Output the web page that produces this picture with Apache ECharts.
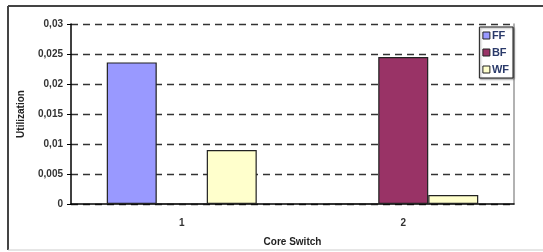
<!DOCTYPE html>
<html>
<head>
<meta charset="utf-8">
<script src="https://cdn.jsdelivr.net/npm/echarts@6/dist/echarts.min.js"></script>
<style>
  html, body { margin: 0; padding: 0; background: #fff; }
  #chart { width: 543px; height: 252px; }
</style>
</head>
<body>
<div id="chart"></div>
<script>
// values
const categories = ["1", "2"];
const ffData = [0.0236, 0];
const bfData = [0, 0.0245];
const wfData = [0.009, 0.0015];

const font = "Liberation Sans";
const chart = echarts.init(document.getElementById("chart"));

function fmt(v) {
  if (v === 0) return "0";
  return String(+v.toFixed(3)).replace(".", ",");
}

const option = {
  animation: false,
  textStyle: { fontFamily: font },
  graphic: [
    // outer frame
    { type: "line", shape: { x1: 8, y1: 6, x2: 543, y2: 6 }, style: { stroke: "#444", lineWidth: 2 } },
    { type: "line", shape: { x1: 8, y1: 6, x2: 8, y2: 250 }, style: { stroke: "#444", lineWidth: 2 } },
    { type: "line", shape: { x1: 8, y1: 250, x2: 543, y2: 250 }, style: { stroke: "#ccc", lineWidth: 1 } },
  ],
  grid: { left: 71, top: 24, right: 29, bottom: 48 },
  legend: {
    orient: "vertical",
    right: 30,
    top: 27,
    padding: [3, 4, 3, 3],
    icon: "rect",
    itemWidth: 7,
    itemHeight: 7,
    itemGap: 6,
    itemStyle: { borderColor: "#222", borderWidth: 1 },
    borderColor: "#222",
    borderWidth: 1,
    shadowColor: "rgba(0,0,0,0.4)",
    shadowOffsetX: 1,
    shadowOffsetY: 1,
    shadowBlur: 2,
    backgroundColor: "#fff",
    textStyle: { fontSize: 11, fontWeight: "bold", color: "#2a3a6a", padding: [0, 0, 0, -3] },
    data: ["FF", "BF", "WF"],
  },
  xAxis: {
    type: "category",
    data: categories,
    axisLine: { lineStyle: { color: "#000", width: 1.5 } },
    axisTick: { length: 4, lineStyle: { color: "#000" } },
    axisLabel: { fontSize: 10, fontWeight: "bold", color: "#333", margin: 14 },
    name: "Core Switch",
    nameLocation: "middle",
    nameGap: 33,
    nameTextStyle: { fontSize: 10, fontWeight: "bold", color: "#222" },
  },
  yAxis: [
    {
      type: "value",
      min: 0,
      max: 0.03,
      interval: 0.005,
      axisLine: { show: true, lineStyle: { color: "#000", width: 1.5 } },
      axisTick: { show: true, length: 4, lineStyle: { color: "#000" } },
      axisLabel: { fontSize: 10, fontWeight: "bold", color: "#333", margin: 8, formatter: fmt },
      splitLine: { lineStyle: { color: "#333", type: [7, 5], width: 1.3 } },
      name: "Utilization",
      nameLocation: "middle",
      nameRotate: 90,
      nameGap: 45,
      nameTextStyle: { fontSize: 10, fontWeight: "bold", color: "#222" },
    },
    {
      type: "value",
      position: "right",
      min: 0,
      max: 0.03,
      interval: 0.005,
      axisLine: { show: true, lineStyle: { color: "#999", width: 1.5 } },
      axisTick: { show: false },
      axisLabel: { show: false },
      splitLine: { show: false },
    },
  ],
  series: [
    { name: "FF", data: ffData, color: "#9999ff" },
    { name: "BF", data: bfData, color: "#993366" },
    { name: "WF", data: wfData, color: "#ffffcc" },
  ].map(function (s) {
    return {
      name: s.name,
      type: "bar",
      data: s.data,
      barWidth: 50,
      barGap: "0%",
      itemStyle: { color: s.color, borderColor: "#222", borderWidth: 1.2 },
    };
  }),
};

chart.setOption(option);
</script>
</body>
</html>
